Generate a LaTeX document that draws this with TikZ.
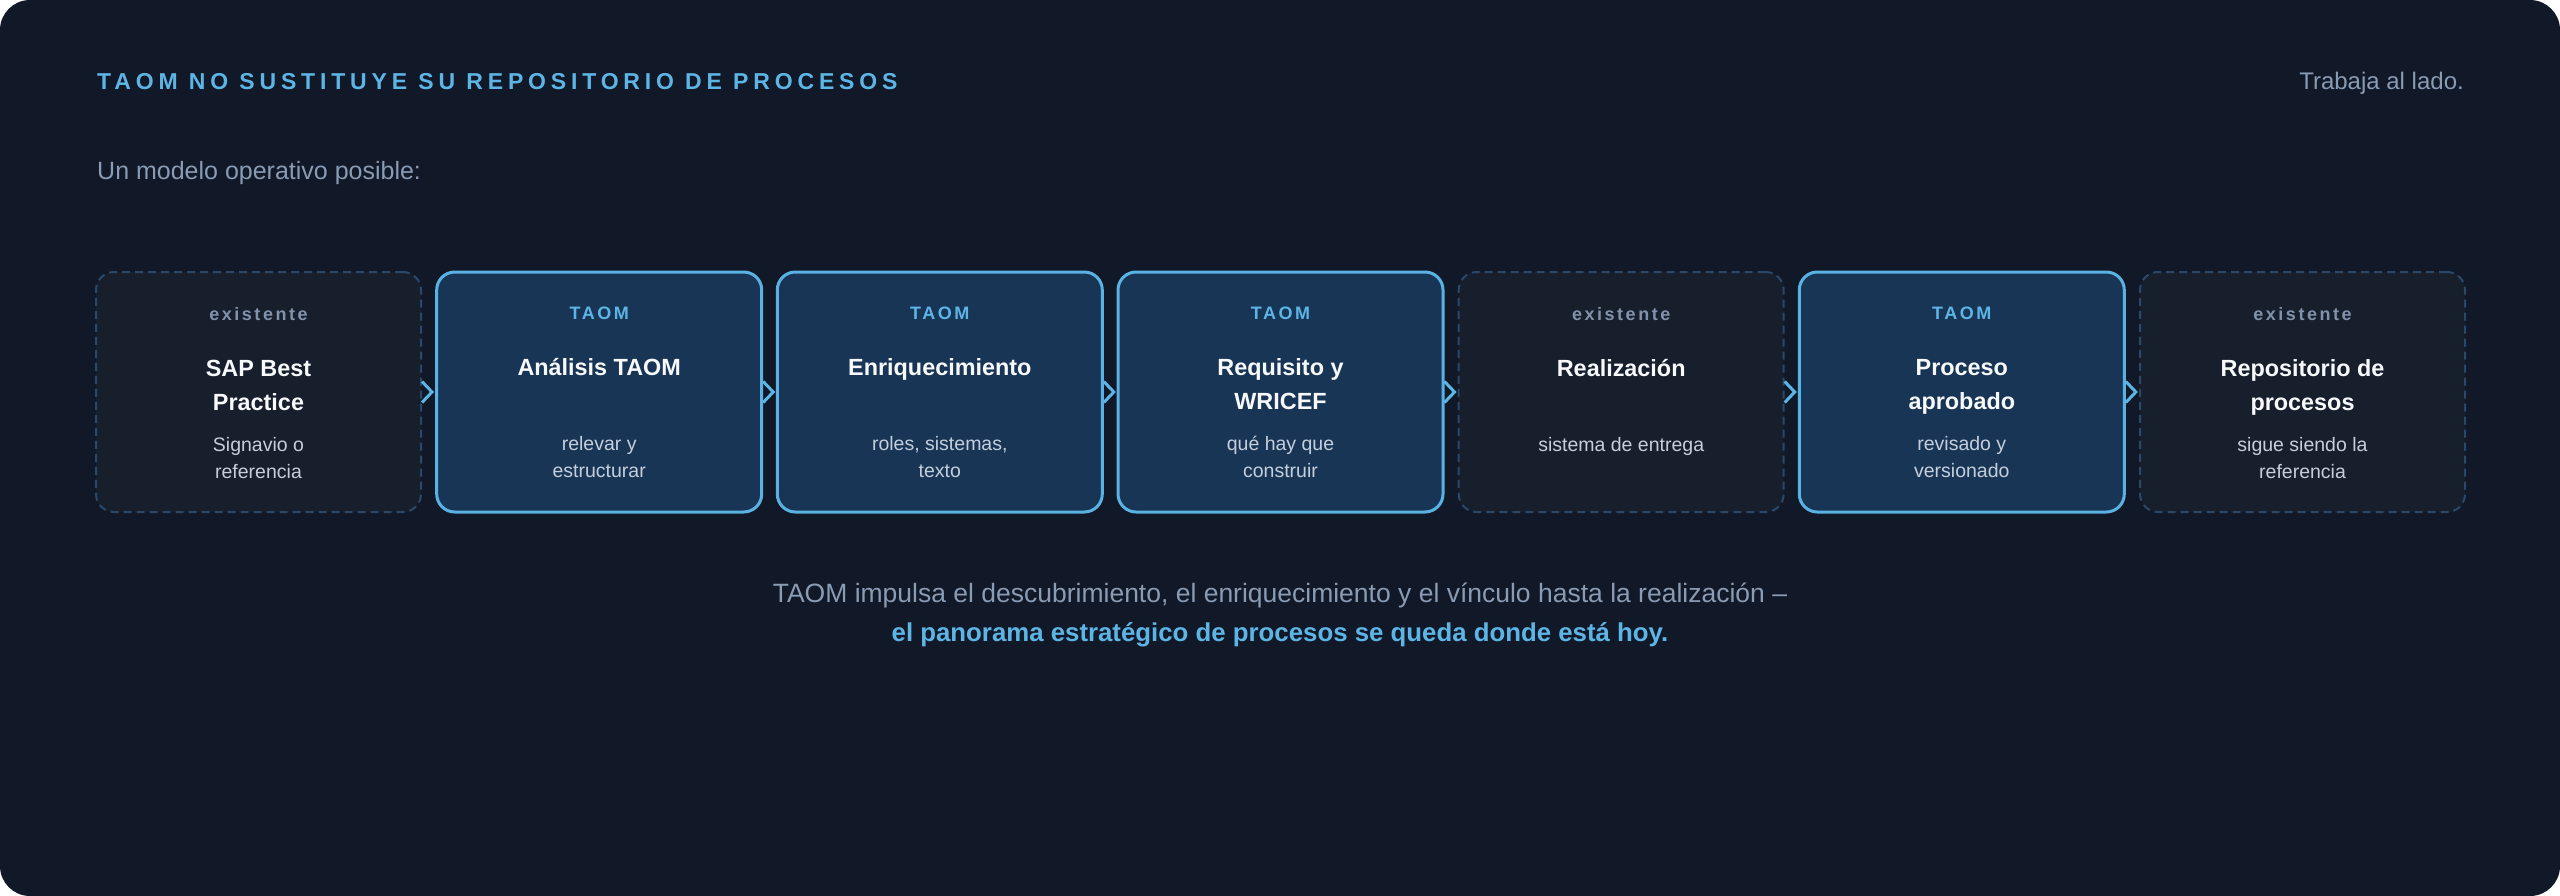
\documentclass[tikz,border=0pt]{standalone}
\usepackage{fontspec}
\setmainfont{Liberation Sans}
\newfontfamily\titlefont[LetterSpace=21]{Liberation Sans}
\newfontfamily\labfont[LetterSpace=14]{Liberation Sans}
\definecolor{bgc}{HTML}{111827}
\definecolor{bluec}{HTML}{5DB5E5}
\definecolor{grayc}{HTML}{8A9BB4}
\definecolor{labc}{HTML}{8292AA}
\definecolor{descc}{HTML}{C5CFDC}
\definecolor{headc}{HTML}{F7F9FB}
\definecolor{exfill}{HTML}{171F2D}
\definecolor{exline}{HTML}{2B4868}
\definecolor{tfill}{HTML}{183556}
\definecolor{tline}{HTML}{5AB2E2}
\newcommand\pbox[9]{%
  \node[#3] (#1) at (#2,392) {};
  \node[lab,text=#4] (#1-l) at ([yshift=-49pt]#1.north) {#5};
  \node[head] (#1-h1) at ([yshift=-105pt]#1.north) {#6};
  \if\relax\detokenize{#7}\relax\else
    \node[head] (#1-h2) at ([yshift=-139pt]#1.north) {#7};
  \fi
  \node[desc] (#1-d1) at ([yshift=-180pt]#1.north) {#8};
  \if\relax\detokenize{#9}\relax\else
    \node[desc] (#1-d2) at ([yshift=-207pt]#1.north) {#9};
  \fi
}
\begin{document}
\begin{tikzpicture}[x=1pt,y=-1pt,
  boxbase/.style={rectangle, rounded corners=18pt, minimum width=325pt, minimum height=240pt, inner sep=0pt},
  exbox/.style={boxbase, fill=exfill, draw=exline, line width=2pt, dash pattern=on 8pt off 5pt},
  taombox/.style={boxbase, fill=tfill, draw=tline, line width=3pt},
  lab/.style={anchor=base, inner sep=0pt, font=\labfont\bfseries\fontsize{18}{20}\selectfont},
  head/.style={anchor=base, inner sep=0pt, text=headc, font=\bfseries\fontsize{23.4}{26}\selectfont},
  desc/.style={anchor=base, inner sep=0pt, text=descc, font=\fontsize{19.5}{22}\selectfont},
  chev/.style={draw=bluec, line width=3pt, line join=miter}
]
\useasboundingbox (0,0) rectangle (2560,896);
\fill[bgc, rounded corners=30pt] (0,0) rectangle (2560,896);

\node[anchor=base west, inner sep=0pt, text=bluec, font=\titlefont\bfseries\fontsize{23}{26}\selectfont] (title) at (97,90) {TAOM NO SUSTITUYE SU REPOSITORIO DE PROCESOS};
\node[anchor=base east, inner sep=0pt, text=grayc, font=\fontsize{24}{28}\selectfont] (side) at (2464,90) {Trabaja al lado.};
\node[anchor=base west, inner sep=0pt, text=grayc, font=\fontsize{25}{30}\selectfont] (sub) at (97,180) {Un modelo operativo posible:};

\pbox{b1}{258.5}{exbox}{labc}{existente}{SAP Best}{Practice}{Signavio o}{referencia}
\pbox{b2}{599.2}{taombox}{bluec}{TAOM}{Análisis TAOM}{}{relevar y}{estructurar}
\pbox{b3}{939.8}{taombox}{bluec}{TAOM}{Enriquecimiento}{}{roles, sistemas,}{texto}
\pbox{b4}{1280.5}{taombox}{bluec}{TAOM}{Requisito y}{WRICEF}{qué hay que}{construir}
\pbox{b5}{1621.2}{exbox}{labc}{existente}{Realización}{}{sistema de entrega}{}
\pbox{b6}{1961.8}{taombox}{bluec}{TAOM}{Proceso}{aprobado}{revisado y}{versionado}
\pbox{b7}{2302.5}{exbox}{labc}{existente}{Repositorio de}{procesos}{sigue siendo la}{referencia}

\foreach \i in {1,...,6}{
  \draw[chev] ([yshift=10.5pt]b\i.east) -- ++(10,10.5) -- ++(-10,10.5);
}

\node[anchor=base, inner sep=0pt, text=grayc, font=\fontsize{26.5}{30}\selectfont] (l1) at (1280,602) {TAOM impulsa el descubrimiento, el enriquecimiento y el vínculo hasta la realización –};
\node[anchor=base, inner sep=0pt, text=bluec, font=\bfseries\fontsize{25.8}{30}\selectfont] (l2) at (1280,641) {el panorama estratégico de procesos se queda donde está hoy.};
\end{tikzpicture}
\end{document}
